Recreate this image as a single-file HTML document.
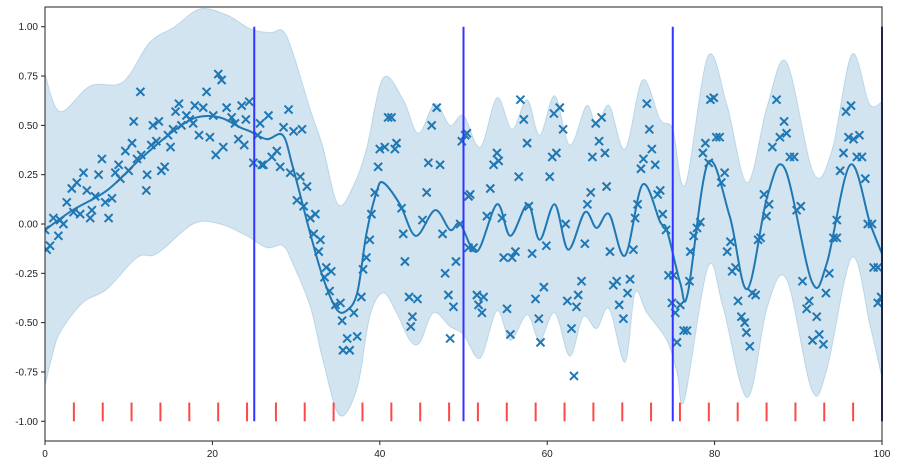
<!DOCTYPE html>
<html><head><meta charset="utf-8"><style>
html,body{margin:0;padding:0;background:#fff;}
svg{display:block;font-family:"Liberation Sans",sans-serif;}
</style></head><body>
<svg id="chart" width="898" height="466" viewBox="0 0 898 466" xmlns="http://www.w3.org/2000/svg"></svg>
<script>
const xTicks=[0,20,40,60,80,100];
const yTicks=[-1.00,-0.75,-0.50,-0.25,0.00,0.25,0.50,0.75,1.00];
const vLines=[25,50,75,100];
const rugX=[3.45,6.9,10.34,13.79,17.24,20.69,24.14,27.59,31.03,34.48,37.93,41.38,44.83,48.28,51.72,55.17,58.62,62.07,65.52,68.97,72.41,75.86,79.31,82.76,86.21,89.66,93.1,96.55];
const meanX=[0,3.3,7.4,11.4,15.3,18.1,20.9,23.3,24.5,26.5,28.4,29.6,31.7,33.2,34.8,36,37.3,38.4,39.6,40.4,42.4,44.3,46.6,48.4,49.6,51.6,54,55.6,57.7,59.1,60.9,62.5,64.5,65.9,67.4,69.3,71.4,73.5,74.3,75.9,76.8,79.2,81.8,83.9,86.3,88.4,91.6,93.4,96.2,98.6,100];
const meanY=[-0.03,0.07,0.17,0.33,0.47,0.54,0.54,0.49,0.47,0.43,0.45,0.29,-0.05,-0.27,-0.43,-0.44,-0.35,-0.05,0.16,0.21,0.1,-0.06,0.07,-0.03,0.0,-0.14,0.1,-0.06,0.1,-0.08,0.1,-0.13,0.06,-0.02,0.05,-0.16,0.2,0.01,-0.03,-0.3,-0.35,0.31,0.04,-0.33,0.14,0.28,-0.29,-0.2,0.3,0.0,-0.15];
const upperX=[0,1.8,5.4,9.3,12.5,15.5,18.5,21.7,24.5,26.9,28.4,29.6,31.7,33.2,35,36.8,38.4,40.4,42.8,44.6,46.6,48.4,50,52,54,55.8,57.6,59.1,60.9,62.7,64.7,65.9,67.4,69.3,71.4,73.5,75,76.5,79.2,81.5,83.9,86.3,88.6,91.8,94,96.4,98.5,100];
const upperY=[0.76,0.57,0.7,0.72,0.92,1.0,1.09,1.06,0.99,0.97,0.98,0.87,0.58,0.39,0.1,0.19,0.38,0.74,0.63,0.46,0.61,0.5,0.55,0.39,0.64,0.48,0.63,0.45,0.65,0.4,0.6,0.5,0.6,0.38,0.73,0.53,0.48,0.2,0.85,0.6,0.21,0.6,0.82,0.26,0.37,0.86,0.61,0.62];
const lowerX=[0,0.8,1.8,4.5,7.4,11,13.4,17.7,20.9,24.1,26.5,28.4,29.6,31.7,33.2,35.2,37.3,38.8,40.4,42,43.6,44.8,46.4,48.4,50,52,54,55.6,57.6,59.1,60.9,62.7,64.3,65.9,67.4,69.3,70.5,71.9,74.3,75.5,76.4,79.2,81,83.9,86.3,88.6,91.6,93.4,96.4,98.6,100];
const lowerY=[-0.82,-0.68,-0.55,-0.4,-0.33,-0.17,-0.15,0.0,0.0,-0.06,-0.12,-0.11,-0.2,-0.42,-0.69,-0.97,-0.83,-0.47,-0.35,-0.45,-0.59,-0.6,-0.45,-0.52,-0.56,-0.68,-0.44,-0.59,-0.46,-0.59,-0.45,-0.67,-0.47,-0.53,-0.43,-0.7,-0.35,-0.45,-0.59,-0.75,-0.89,-0.22,-0.42,-0.88,-0.42,-0.28,-0.84,-0.74,-0.17,-0.52,-0.78];
const ptX=[0.2,0.6,0,1.0,1.6,2.2,1.8,2.6,3.2,3.8,3.4,4.2,4.6,5.0,5.4,5.6,6.0,6.4,6.8,7.2,7.6,8.0,8.4,8.8,9.0,9.6,10.0,10.4,10.6,11.0,11.4,11.5,12.1,12.2,12.7,12.9,13.3,13.6,13.9,14.3,14.7,15.0,15.3,15.6,16.0,16.3,16.9,17.3,17.7,17.9,18.4,18.9,19.3,19.7,20.1,20.4,20.7,21.1,21.3,21.7,22.3,22.7,23.1,23.5,23.8,24.0,24.4,24.9,25.7,25.4,25.9,
26.1,26.7,27.1,27.7,28.1,28.5,29.1,29.3,29.7,30.5,30.7,30.1,30.9,31.3,31.7,32.3,32.1,32.9,32.7,33.6,33.4,34.2,34.0,34.7,35.3,35.5,36.1,35.6,36.4,36.9,37.3,37.8,38.0,38.4,38.8,39.0,39.4,39.8,40.0,40.6,41.0,41.4,42.0,41.8,42.6,42.8,43.0,43.5,43.9,43.7,44.5,45.1,45.6,45.8,46.2,46.8,47.2,47.5,47.8,48.2,48.8,48.4,49.1,49.6,50.6,50.2,49.8,50.6,
50.4,50.8,51.2,51.6,52.4,51.8,52.2,52.8,53.2,53.6,54.0,54.2,54.6,54.8,55.2,55.6,55.8,56.2,56.6,56.8,57.2,57.6,57.8,58.2,58.6,59.0,59.2,59.6,59.9,60.3,60.6,61.1,60.8,61.5,61.9,62.2,62.4,62.9,63.2,63.5,63.7,64.1,64.5,64.8,65.2,65.4,65.8,66.2,66.5,66.9,67.1,67.5,67.9,68.3,68.6,69.1,69.6,69.9,70.3,70.5,70.8,71.2,71.5,71.9,72.2,72.5,72.9,73.2,73.5,73.8,74.2,74.5,74.9,75.3,75.5,
75.1,75.9,76.3,76.7,77.0,77.1,77.5,77.9,78.3,78.6,78.9,79.3,79.5,79.9,80.2,80.6,80.8,81.2,81.5,81.9,82.1,82.5,82.8,83.2,83.6,83.8,84.2,84.5,84.9,85.2,85.5,86.2,85.9,86.5,86.9,87.4,87.8,88.3,88.6,89.0,89.5,89.8,90.3,90.5,91.0,91.3,91.7,92.2,92.5,93.0,93.3,93.7,94.2,94.6,94.6,95.0,95.4,95.7,96.3,96.0,96.6,97.0,97.6,97.3,98.0,98.3,98.8,99.0,99.5,99.5,99.9];
const ptY=[-0.13,-0.11,-0.03,0.03,-0.06,0.0,0.02,0.11,0.18,0.21,0.06,0.05,0.26,0.17,0.03,0.07,0.14,0.25,0.33,0.11,0.03,0.13,0.26,0.3,0.23,0.37,0.27,0.41,0.52,0.33,0.67,0.35,0.17,0.25,0.4,0.5,0.42,0.52,0.27,0.29,0.45,0.39,0.48,0.57,0.61,0.5,0.55,0.53,0.51,0.6,0.45,0.59,0.67,0.44,0.55,0.35,0.76,0.73,0.39,0.59,0.54,0.51,0.43,0.6,0.4,0.53,0.62,0.31,0.51,0.45,0.3,
0.3,0.55,0.34,0.37,0.29,0.49,0.58,0.26,0.47,0.24,0.48,0.12,0.09,0.19,0.03,0.05,-0.05,-0.08,-0.14,-0.22,-0.27,-0.24,-0.34,-0.41,-0.4,-0.49,-0.58,-0.64,-0.64,-0.45,-0.57,-0.37,-0.23,-0.17,-0.08,0.05,0.16,0.29,0.38,0.39,0.54,0.54,0.41,0.38,0.08,-0.05,-0.19,-0.37,-0.47,-0.52,-0.38,0.02,0.16,0.31,0.5,0.59,0.3,-0.05,-0.25,-0.36,-0.42,-0.58,-0.19,0.0,0.14,0.45,0.42,-0.12,
0.46,0.15,-0.12,-0.36,-0.37,-0.41,-0.45,0.04,0.18,0.3,0.36,0.32,0.03,-0.17,-0.43,-0.56,-0.17,-0.14,0.24,0.63,0.53,0.41,0.09,-0.15,-0.38,-0.48,-0.6,-0.32,-0.11,0.24,0.34,0.36,0.56,0.59,0.48,0.0,-0.39,-0.53,-0.77,-0.42,-0.36,-0.29,-0.1,0.1,0.16,0.34,0.51,0.42,0.54,0.36,0.19,-0.14,-0.31,-0.29,-0.41,-0.48,-0.35,-0.28,-0.13,0.03,0.1,0.28,0.33,0.61,0.48,0.38,0.3,0.15,0.17,0.05,-0.03,-0.26,-0.4,-0.45,-0.6,
-0.26,-0.41,-0.54,-0.54,-0.29,-0.14,-0.06,-0.02,0.01,0.36,0.41,0.31,0.63,0.64,0.44,0.44,0.21,0.26,-0.14,-0.09,-0.24,-0.22,-0.39,-0.47,-0.5,-0.55,-0.62,-0.35,-0.36,-0.08,-0.07,0.04,0.15,0.1,0.39,0.63,0.44,0.52,0.46,0.34,0.34,0.07,0.09,-0.29,-0.43,-0.39,-0.59,-0.47,-0.56,-0.61,-0.35,-0.25,-0.07,-0.07,0.02,0.27,0.36,0.57,0.6,0.44,0.43,0.34,0.34,0.45,0.23,0.0,0.0,-0.22,-0.22,-0.4,-0.37];

const L=45,R=882,T=7,B=441;
const xs=v=>L+(v-0)/(100-0)*(R-L);
const ys=v=>T+(1.1-v)/(2.2)*(B-T);
const NS="http://www.w3.org/2000/svg";
const svg=document.getElementById('chart');
function mk(tag,attrs,parent){const e=document.createElementNS(NS,tag);for(const k in attrs)e.setAttribute(k,attrs[k]);(parent||svg).appendChild(e);return e;}
function spline(px,py){
  let d='';
  for(let i=0;i<px.length;i++){
    if(i===0){d+='M'+px[0].toFixed(2)+','+py[0].toFixed(2);continue;}
    const i0=Math.max(0,i-2),i1=i-1,i2=i,i3=Math.min(px.length-1,i+1);
    const c1x=px[i1]+(px[i2]-px[i0])/6,c1y=py[i1]+(py[i2]-py[i0])/6;
    const c2x=px[i2]-(px[i3]-px[i1])/6,c2y=py[i2]-(py[i3]-py[i1])/6;
    d+=' C'+c1x.toFixed(2)+','+c1y.toFixed(2)+' '+c2x.toFixed(2)+','+c2y.toFixed(2)+' '+px[i2].toFixed(2)+','+py[i2].toFixed(2);
  }
  return d;
}
const clip=mk('clipPath',{id:'pc'},mk('defs',{}));
mk('rect',{x:L,y:T,width:R-L,height:B-T},clip);
const g=mk('g',{'clip-path':'url(#pc)'});

// band
const up=spline(upperX.map(xs),upperY.map(ys));
const lxr=lowerX.slice().reverse(),lyr=lowerY.slice().reverse();
const lo=spline(lxr.map(xs),lyr.map(ys)).replace(/^M/,' L');
const band=mk('path',{d:up+lo+' Z',fill:'#1f77b4','fill-opacity':'0.2',stroke:'#1f77b4','stroke-opacity':'0.2','stroke-width':'1'},g);



// points
const pg=mk('g',{stroke:'#1f77b4','stroke-width':'2'},g);


for(let i=0;i<ptX.length;i++){
  const cx=xs(ptX[i]),cy=ys(ptY[i]),s=4;
  const p=mk('path',{d:`M${cx-s},${cy-s}L${cx+s},${cy+s}M${cx-s},${cy+s}L${cx+s},${cy-s}`},pg);
  
  
}
// mean
const m=mk('path',{d:spline(meanX.map(xs),meanY.map(ys)),fill:'none',stroke:'#1f77b4','stroke-width':'2'},g);



// rug
for(const r of rugX){
  const l=mk('line',{x1:xs(r),x2:xs(r),y1:ys(-0.905),y2:ys(-1.0),stroke:'#ff3333','stroke-opacity':'0.9','stroke-width':'2'});
  
  
}
// vertical lines
for(const v of vLines){
  const l=mk('line',{x1:xs(v),x2:xs(v),y1:ys(1),y2:ys(-1),stroke:v===100?'#222266':'#3333ff','stroke-width':'2'});
  
  
}
// frame
const fr=mk('rect',{x:L,y:T,width:R-L,height:B-T,fill:'none',stroke:'#222','stroke-width':'1'});


// ticks
for(const t of xTicks){
  const x=xs(t);
  mk('line',{x1:x,x2:x,y1:B,y2:B+4,stroke:'#222','stroke-width':'1'});
  const tx=mk('text',{x:x,y:B+16,'text-anchor':'middle','font-size':'10',fill:'#222'});
  tx.textContent=String(t);
  
  
}
for(const t of yTicks){
  const y=ys(t);
  mk('line',{x1:L-4,x2:L,y1:y,y2:y,stroke:'#222','stroke-width':'1'});
  const tx=mk('text',{x:L-7,y:y+3.5,'text-anchor':'end','font-size':'10',fill:'#222'});
  tx.textContent=t.toFixed(2);
  
  
}
</script>
</body></html>
